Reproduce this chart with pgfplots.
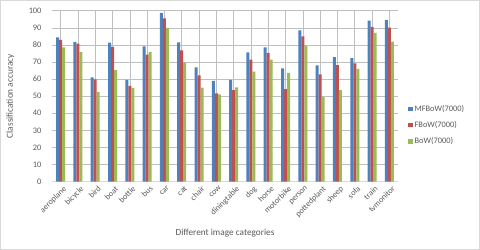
\documentclass[border=0pt]{standalone}
\usepackage{pgfplots}
\pgfplotsset{compat=1.18}
\usepackage{fontspec}
\setmainfont{Carlito}
\definecolor{cblue}{HTML}{4F81BD}
\definecolor{cred}{HTML}{C0504D}
\definecolor{cgreen}{HTML}{9BBB59}
\definecolor{txt}{HTML}{595959}
\definecolor{grid}{HTML}{D9D9D9}
\begin{document}
\begin{tikzpicture}
\begin{axis}[
  name=ax,
  scale only axis,
  width=346bp, height=171bp,
  ybar=0pt, bar width=3bp,
  xmin=-0.5, xmax=19.5,
  ymin=0, ymax=100,
  ytick={0,10,...,100},
  xtick={0,...,19},
  xticklabels={aeroplane,bicycle,bird,boat,bottle,bus,car,cat,chair,cow,diningtable,dog,horse,motorbike,person,pottedplant,sheep,sofa,train,tvmonitor},
  xticklabel style={rotate=45, anchor=north east, inner sep=1bp, font=\fontsize{8.2}{9}\selectfont, text=txt, yshift=-3bp},
  yticklabel style={font=\fontsize{8.4}{9}\selectfont, text=txt, xshift=-7bp},
  /pgf/number format/assume math mode=true,
  major tick length=0pt,
  ymajorgrids, grid style={grid, line width=0.6pt},
  axis x line*=bottom, axis y line*=left,
  x axis line style={grid, line width=0.8pt},
  y axis line style={draw=none},
  ylabel={Classification accuracy},
  ylabel style={at={(axis description cs:-0.12,0.5)}, anchor=center, font=\fontsize{9.3}{11}\selectfont, text=txt},
  xlabel={Different image categories},
  xlabel style={at={(axis description cs:0.5,-0.298)}, anchor=center, font=\fontsize{9.3}{11}\selectfont, text=txt},
  legend style={at={(axis description cs:1.029,0.33)}, anchor=west, draw=none, fill=none, font=\fontsize{8.4}{9}\selectfont, text=txt, row sep=4.5bp, inner sep=0pt},
  legend cell align=left,
  legend image code/.code={\fill[#1] (0bp,-2.2bp) rectangle (4.4bp,2.2bp);},
]
\addplot[fill=cblue, draw=none] coordinates {(0,84.4)(1,81.7)(2,61.0)(3,81.3)(4,59.5)(5,79.2)(6,98.7)(7,81.5)(8,66.9)(9,58.9)(10,59.5)(11,75.6)(12,78.6)(13,66.3)(14,88.5)(15,68.0)(16,72.9)(17,72.3)(18,94.2)(19,94.7)};
\addplot[fill=cred, draw=none] coordinates {(0,82.9)(1,80.7)(2,59.9)(3,78.8)(4,56.0)(5,74.3)(6,95.5)(7,76.8)(8,62.2)(9,51.7)(10,53.6)(11,71.4)(12,75.3)(13,54.2)(14,85.0)(15,62.8)(16,68.2)(17,69.2)(18,90.5)(19,90.1)};
\addplot[fill=cgreen, draw=none] coordinates {(0,78.6)(1,75.8)(2,52.6)(3,65.3)(4,54.8)(5,75.8)(6,89.9)(7,69.6)(8,55.0)(9,51.1)(10,55.2)(11,64.3)(12,71.4)(13,63.6)(14,79.5)(15,49.4)(16,53.6)(17,66.0)(18,87.1)(19,81.9)};
\legend{MFBoW(7000),FBoW(7000),BoW(7000)}
\end{axis}
\draw[grid, line width=0.8pt, use as bounding box] ([shift={(-51.6bp,-67.9bp)}]ax.south west) rectangle ++(479.2bp,249.2bp);
\end{tikzpicture}
\end{document}
